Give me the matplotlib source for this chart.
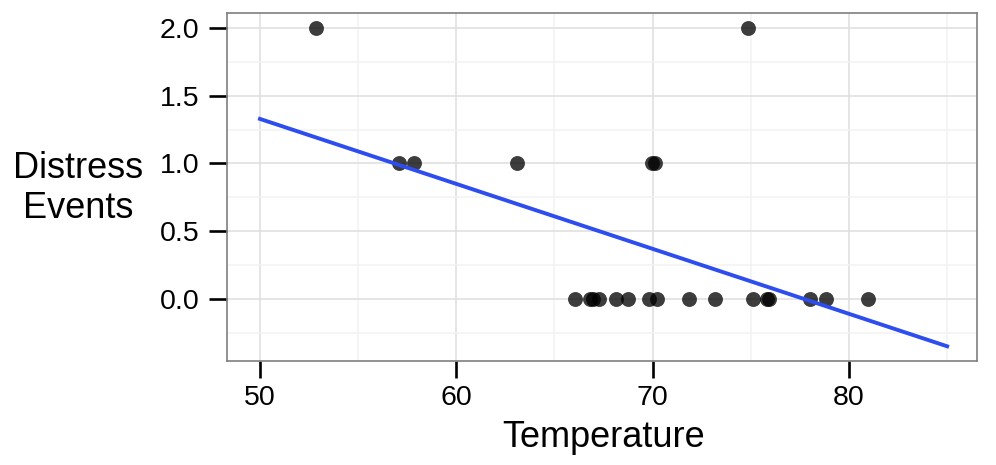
import numpy as np
import matplotlib
matplotlib.use("Agg")
import matplotlib.pyplot as plt
from matplotlib.ticker import MultipleLocator

plt.rcParams['font.family'] = ['Liberation Sans', 'DejaVu Sans']

temperature = [52.85, 57.08, 57.86, 63.10, 69.95, 70.12, 74.84,
               66.07, 66.81, 66.95, 67.25, 68.15, 68.76, 69.83, 70.24,
               71.87, 73.18, 75.09, 75.80, 75.94, 78.02, 78.82, 80.99]
distress = [2, 1, 1, 1, 1, 1, 2,
            0, 0, 0, 0, 0, 0, 0, 0,
            0, 0, 0, 0, 0, 0, 0, 0]
x_ticks = [50, 60, 70, 80]
y_ticks = [0.0, 0.5, 1.0, 1.5, 2.0]
fit_range = [50, 85]

W, H = 996, 465
fig = plt.figure(figsize=(W / 100, H / 100), dpi=100)
ax = fig.add_axes([227 / W, 1 - 361 / H, (977 - 227) / W, (361 - 13) / H])

ax.set_xlim(48.32, 86.52)
ax.set_ylim(-0.458, 2.11)

ax.xaxis.set_minor_locator(MultipleLocator(5))
ax.yaxis.set_minor_locator(MultipleLocator(0.25))
ax.set_xticks(x_ticks)
ax.set_yticks(y_ticks)
ax.set_yticklabels([f"{v:.1f}" for v in y_ticks])
ax.grid(which='major', color='#DEDEDE', linewidth=1.1, zorder=0)
ax.grid(which='minor', color='#F2F2F2', linewidth=1.1, zorder=0)
ax.set_axisbelow(True)

ax.tick_params(axis='x', which='major', length=12.5, width=1.9, color='black',
               labelsize=20.5, pad=5)
ax.tick_params(axis='y', which='major', length=13, width=1.9, color='black',
               labelsize=20.5, pad=7)
ax.tick_params(which='minor', length=0)
for s in ax.spines.values():
    s.set_color('#7F7F7F')
    s.set_linewidth(1.2)

ax.scatter(temperature, distress, s=115, color='black', alpha=0.76,
           linewidths=0, zorder=3)

coef = np.polyfit(temperature, distress, 1)
xs = np.array(fit_range, dtype=float)
ax.plot(xs, np.polyval(coef, xs), color='#2D4DEE', linewidth=2.8, zorder=4)

fig.text(604 / W, 1 - 447 / H, 'Temperature', fontsize=26,
         ha='center', va='baseline')
fig.text(78 / W, 1 - 178 / H, 'Distress', fontsize=26,
         ha='center', va='baseline')
fig.text(78 / W, 1 - 218 / H, 'Events', fontsize=26,
         ha='center', va='baseline')

fig.savefig('out.png', dpi=100)
